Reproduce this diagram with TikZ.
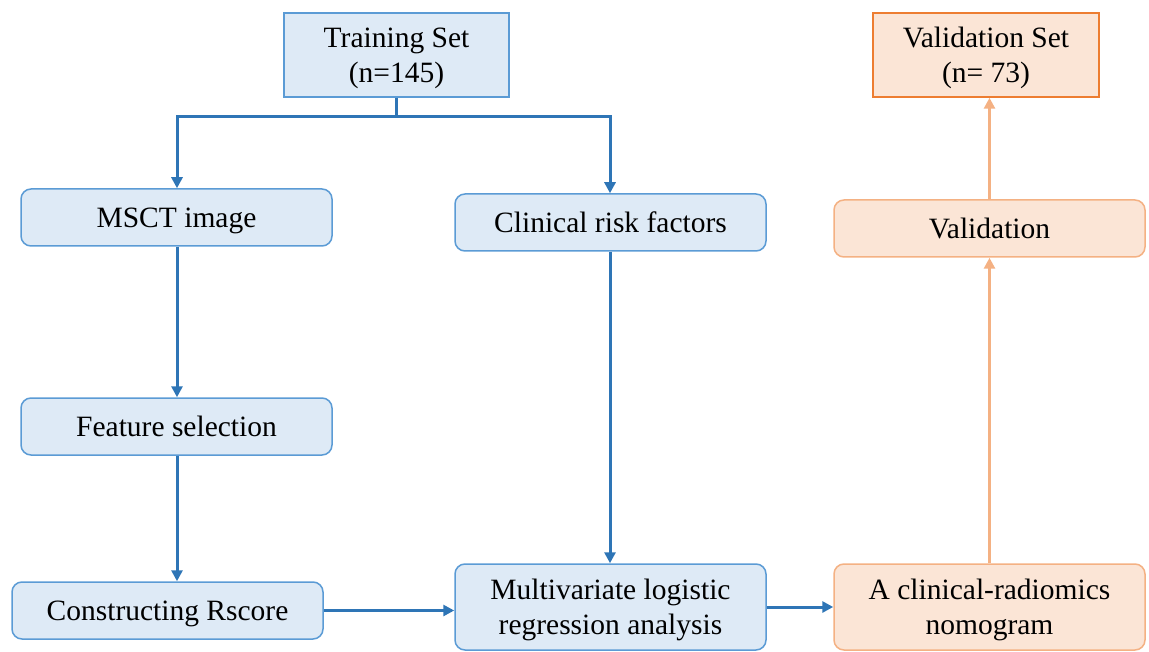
\documentclass[tikz,border=0pt]{standalone}
\usepackage{fontspec}
\setmainfont{Liberation Serif}
\usetikzlibrary{arrows.meta}
\definecolor{bfill}{HTML}{DEEAF6}
\definecolor{bedge}{HTML}{5B9BD5}
\definecolor{bline}{HTML}{2E75B6}
\definecolor{ofill}{HTML}{FBE5D6}
\definecolor{oedge}{HTML}{ED7D31}
\definecolor{oedgel}{HTML}{F4B183}
\tikzset{
  base/.style={font=\fontsize{29.5}{35}\selectfont, align=center, inner sep=0pt, text depth=-3pt, line width=1.5pt},
  bluebox/.style={base, draw=bedge, fill=bfill},
  orangebox/.style={base, draw=oedgel, fill=ofill},
  rbox/.style={rounded corners=10pt},
  blink/.style={draw=bline, line width=3pt, -{Triangle[width=11pt,length=11pt]}},
  bplain/.style={draw=bline, line width=3pt},
  olink/.style={draw=oedgel, line width=3pt, -{Triangle[width=11pt,length=11pt]}},
}
\begin{document}
\begin{tikzpicture}[x=1pt,y=-1pt]
\useasboundingbox (0,0) rectangle (1149,652);
\node[bluebox, minimum width=225pt, minimum height=84pt] (train) at (396.5,55) {Training Set\\(n=145)};
\node[base, draw=oedge, fill=ofill, minimum width=226pt, minimum height=84pt] (valset) at (986,55) {Validation Set\\(n= 73)};
\node[bluebox, rbox, minimum width=311pt, minimum height=57pt] (msct) at (176.5,217.5) {MSCT image};
\node[bluebox, rbox, minimum width=311pt, minimum height=57pt] (clin) at (610.5,222.5) {Clinical risk factors};
\node[bluebox, rbox, minimum width=311pt, minimum height=57pt] (feat) at (176.5,426.5) {Feature selection};
\node[bluebox, rbox, minimum width=311pt, minimum height=57pt] (rscore) at (167.5,610.5) {Constructing Rscore};
\node[bluebox, rbox, minimum width=311pt, minimum height=86pt] (multi) at (610.5,607) {Multivariate logistic\\regression analysis};
\node[orangebox, rbox, minimum width=311pt, minimum height=86pt] (nomo) at (989.5,607) {A clinical-radiomics\\nomogram};
\node[orangebox, rbox, minimum width=311pt, minimum height=57pt] (valid) at (989.5,228.5) {Validation};
\coordinate (split) at (396.5,117);
\coordinate (sl) at (177,117);
\coordinate (sr) at (610,117);
\draw[bplain] (train.south) -- (split);
\draw[bplain, line cap=rect] (sl) -- (sr);
\draw[blink] (sl) -- (sl |- msct.north);
\draw[blink] (sr) -- (sr |- clin.north);
\draw[blink] (msct.south -| sl) -- (feat.north -| sl);
\draw[blink] (feat.south -| sl) -- (rscore.north -| sl);
\draw[blink] (clin.south -| sr) -- (multi.north -| sr);
\draw[blink] (rscore.east) -- (rscore.east -| multi.west);
\draw[blink] (multi.east) -- (nomo.west);
\draw[olink] (nomo.north) -- (valid.south);
\draw[olink] (valid.north) -- (valid.north |- valset.south);
\end{tikzpicture}
\end{document}
